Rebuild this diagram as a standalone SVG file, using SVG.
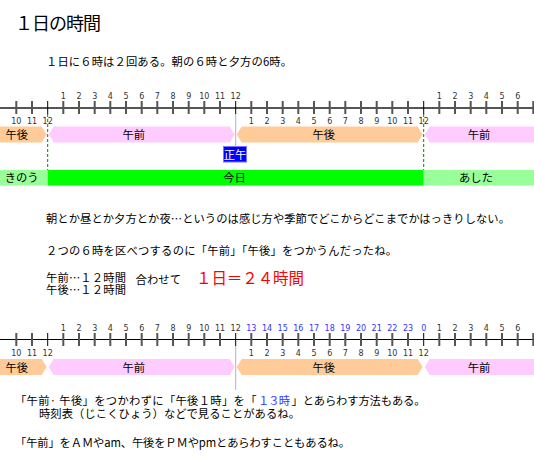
<svg xmlns="http://www.w3.org/2000/svg" width="534" height="462" viewBox="0 0 534 462">
<style>
.jp{font-family:"Noto Sans CJK JP","Noto Sans CJK SC",sans-serif;font-size:11.3px;fill:#000}
.num{font-family:"DejaVu Sans","Liberation Sans",sans-serif;font-size:8px;fill:#333;text-anchor:middle}
.blue{fill:#3333FF}
.mid{text-anchor:middle}
.tick{stroke:#555;stroke-width:2;fill:none}
.tick12{stroke:#000;stroke-width:1;fill:none}
.am{fill:#FFCCFF}
.pm{fill:#FFCC99}
.guide{stroke:#AAAAFF;stroke-width:1}
.dash{stroke:#008800;stroke-width:1;stroke-dasharray:3 2}
</style>
<defs>
<g id="ticks">
<path class="tick" d="M16.3 101V114M32 101V114M63.3 101V114M79 101V114M94.7 101V114M110.3 101V114M126 101V114M141.7 101V114M157.3 101V114M173 101V114M188.7 101V114M204.3 101V114M220 101V114M251.3 101V114M267 101V114M282.7 101V114M298.3 101V114M314 101V114M329.7 101V114M345.3 101V114M361 101V114M376.7 101V114M392.3 101V114M408 101V114M439.3 101V114M455 101V114M470.7 101V114M486.3 101V114M502 101V114M517.7 101V114M533.3 101V114"/>
<path class="tick12" d="M47.7 101V114M235.7 101V114M423.7 101V114"/>
</g>
<g id="bands">
<path class="pm" d="M0 126.5H41.7L46.7 134.5L41.7 142.5H0Z"/>
<path class="am" d="M48.7 134.5L53.7 126.5H229.7L234.7 134.5L229.7 142.5H53.7Z"/>
<path class="pm" d="M236.7 134.5L241.7 126.5H417.7L422.7 134.5L417.7 142.5H241.7Z"/>
<path class="am" d="M424.7 134.5L429.7 126.5H534V142.5H429.7Z"/>
<text class="jp mid" x="16.7" y="139">午後</text>
<text class="jp mid" x="133.7" y="139">午前</text>
<text class="jp mid" x="323.7" y="139">午後</text>
<text class="jp mid" x="479" y="139">午前</text>
</g>
<g id="botlabels" class="num">
<text x="16.3" y="123.5">10</text><text x="32" y="123.5">11</text><text x="47.7" y="123.5">12</text>
<text x="251.3" y="123.5">1</text><text x="267" y="123.5">2</text><text x="282.7" y="123.5">3</text><text x="298.3" y="123.5">4</text><text x="314" y="123.5">5</text><text x="329.7" y="123.5">6</text><text x="345.3" y="123.5">7</text><text x="361" y="123.5">8</text><text x="376.7" y="123.5">9</text><text x="392.3" y="123.5">10</text><text x="408" y="123.5">11</text><text x="423.7" y="123.5">12</text>
</g>
<g id="toplabels" class="num">
<text x="63.3" y="98.5">1</text><text x="79" y="98.5">2</text><text x="94.7" y="98.5">3</text><text x="110.3" y="98.5">4</text><text x="126" y="98.5">5</text><text x="141.7" y="98.5">6</text><text x="157.3" y="98.5">7</text><text x="173" y="98.5">8</text><text x="188.7" y="98.5">9</text><text x="204.3" y="98.5">10</text><text x="220" y="98.5">11</text><text x="235.7" y="98.5">12</text>
<text x="439.3" y="98.5">1</text><text x="455" y="98.5">2</text><text x="470.7" y="98.5">3</text><text x="486.3" y="98.5">4</text><text x="502" y="98.5">5</text><text x="517.7" y="98.5">6</text>
</g>
</defs>
<rect width="534" height="462" fill="#fff"/>

<g id="title">
<text class="jp" x="15" y="30" style="font-size:18px" textLength="86" lengthAdjust="spacing">１日の時間</text>
</g>
<g id="intro">
<text class="jp" x="46" y="66" textLength="246" lengthAdjust="spacing">１日に６時は２回ある。朝の６時と夕方の6時。</text>
</g>

<g id="timeline1">
<line x1="0" y1="108" x2="534" y2="108" stroke="#555" stroke-width="1.8"/>
<use href="#ticks"/>
<use href="#toplabels"/>
<use href="#botlabels"/>
<use href="#bands"/>
</g>

<g id="noon">
<rect x="223.5" y="146.5" width="23" height="15.5" fill="#0000FF" stroke="#7777FF" stroke-width="1"/>
<text class="jp mid" x="235" y="158.5" style="fill:#fff">正午</text>
</g>

<g id="days">
<rect x="0" y="170" width="47.7" height="15.5" fill="#99FF99"/>
<rect x="47.7" y="170" width="376" height="15.5" fill="#00FF00"/>
<rect x="423.7" y="170" width="110.3" height="15.5" fill="#99FF99"/>
<text class="jp mid" x="21.7" y="182">きのう</text>
<text class="jp mid" x="234.5" y="182">今日</text>
<text class="jp mid" x="476" y="182">あした</text>
</g>

<g id="connectors">
<line class="guide" x1="235.7" y1="114" x2="235.7" y2="146.5"/>
<line class="dash" x1="47.7" y1="114" x2="47.7" y2="170"/>
<line class="dash" x1="423.7" y1="114" x2="423.7" y2="170"/>
<line class="guide" x1="235.7" y1="346" x2="235.7" y2="390"/>
</g>

<g id="explain">
<text class="jp" x="46" y="223.3" textLength="464" lengthAdjust="spacing">朝とか昼とか夕方とか夜…というのは感じ方や季節でどこからどこまでかはっきりしない。</text>
<text class="jp" x="46" y="255" textLength="351" lengthAdjust="spacing">２つの６時を区べつするのに「午前」「午後」をつかうんだったね。</text>
<text class="jp"><tspan x="46" y="282" textLength="80" lengthAdjust="spacing">午前…１２時間</tspan><tspan x="46" y="294" textLength="80" lengthAdjust="spacing">午後…１２時間</tspan></text>
<text class="jp" x="135.5" y="283.5" textLength="45.5" lengthAdjust="spacing">合わせて</text>
<text class="jp" x="196" y="283.5" style="font-size:15.5px;fill:#FF0000" textLength="108" lengthAdjust="spacing">１日＝２４時間</text>
</g>

<g id="timeline2">
<line x1="0" y1="339.5" x2="534" y2="339.5" stroke="#000" stroke-width="1"/>
<use href="#ticks" transform="translate(0,232)"/>
<use href="#toplabels" transform="translate(0,232)"/>
<use href="#botlabels" transform="translate(0,232)"/>
<g class="num blue">
<text x="251.3" y="330.5">13</text><text x="267" y="330.5">14</text><text x="282.7" y="330.5">15</text><text x="298.3" y="330.5">16</text><text x="314" y="330.5">17</text><text x="329.7" y="330.5">18</text><text x="345.3" y="330.5">19</text><text x="361" y="330.5">20</text><text x="376.7" y="330.5">21</text><text x="392.3" y="330.5">22</text><text x="408" y="330.5">23</text><text x="423.7" y="330.5">0</text>
</g>
<use href="#bands" transform="translate(0,232.5)"/>
</g>

<g id="notes">
<text class="jp" y="405"><tspan x="15" textLength="241.5" lengthAdjust="spacing">「午前· 午後」をつかわずに「午後１時」を「</tspan><tspan x="258" style="fill:#3333FF" textLength="32" lengthAdjust="spacing">１３時</tspan><tspan x="291.5" textLength="134" lengthAdjust="spacing">」とあらわす方法もある。</tspan></text>
<text class="jp" x="39" y="417.6" textLength="261" lengthAdjust="spacing">時刻表（じこくひょう）などで見ることがあるね。</text>
<text class="jp" x="15" y="447" textLength="335" lengthAdjust="spacing">「午前」をＡＭやam、午後をＰＭやpmとあらわすこともあるね。</text>
</g>
</svg>
